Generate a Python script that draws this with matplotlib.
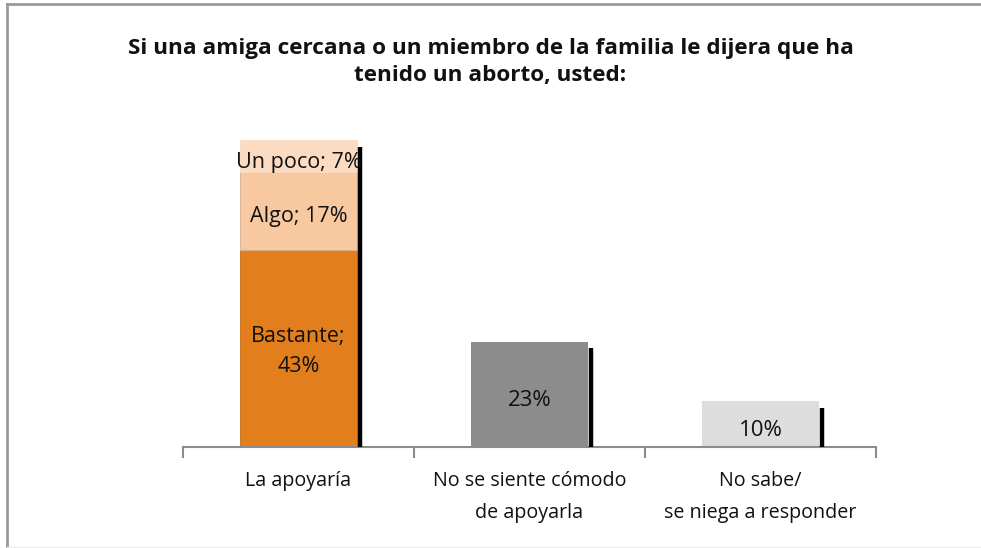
import matplotlib.pyplot as plt
from matplotlib.lines import Line2D

categories = ["La apoyaría", "No se siente cómodo\nde apoyarla", "No sabe/\nse niega a responder"]
bastante = [43, 0, 0]
algo = [17, 0, 0]
un_poco = [7, 0, 0]
otros = [0, 23, 10]
seg_labels = ["Bastante;\n43%", "Algo; 17%", "Un poco; 7%"]
otros_labels = ["", "23%", "10%"]
title = "Si una amiga cercana o un miembro de la familia le dijera que ha\ntenido un aborto, usted:"

plt.rcParams['font.family'] = ['Open Sans', 'DejaVu Sans']

fig = plt.figure(figsize=(9.81, 5.48), dpi=100)
# frame: only left and top clearly visible, bottom very faint
fig.lines.append(Line2D([7/981, 7/981], [1/548, 544/548], transform=fig.transFigure, color='#9a9a9a', lw=2))
fig.lines.append(Line2D([7/981, 1.0], [544/548, 544/548], transform=fig.transFigure, color='#9a9a9a', lw=2))
fig.lines.append(Line2D([7/981, 1.0], [1.5/548, 1.5/548], transform=fig.transFigure, color='#ececec', lw=1))

ax = fig.add_axes([183/981, 101/548, 693/981, 320.6/548])
x = [0, 1, 2]
w = 0.51

# first bar: stacked segments
ax.bar(x, bastante, w, color='#e27f1c', edgecolor='#c87018', linewidth=0.6, zorder=2)
ax.bar(x, algo, w, bottom=bastante, color='#f8c9a0', edgecolor='#d8b090', linewidth=0.6, zorder=2)
bot3 = [a + b for a, b in zip(bastante, algo)]
ax.bar(x, un_poco, w, bottom=bot3, color='#fbdcc2', edgecolor='#fbdcc2', linewidth=0.6, zorder=2)
ax.bar(x[1:], otros[1:], w, color=['#8c8c8c', '#dddddd'], zorder=2)

# dark shadow line on the right edge of each bar
totals = [a + b + c + d for a, b, c, d in zip(bastante, algo, un_poco, otros)]
for xi, t in zip(x, totals):
    ax.plot([xi + w / 2 + 0.012, xi + w / 2 + 0.012], [0, t - 1.4], color='black', lw=3.2,
            solid_capstyle='butt', zorder=3)

fs = 15.5
ax.text(0, bastante[0] / 2 - 0.6, seg_labels[0], ha='center', va='center', fontsize=fs, color='#111111',
        linespacing=1.55, zorder=4)
ax.text(0, bastante[0] + algo[0] / 2 - 1.2, seg_labels[1], ha='center', va='center', fontsize=fs, color='#111111', zorder=4)
ax.text(0, bot3[0] + un_poco[0] / 2 - 1.3, seg_labels[2], ha='center', va='center', fontsize=fs, color='#111111', zorder=4)
for xi, v, lab in zip(x[1:], otros[1:], otros_labels[1:]):
    ax.text(xi, v / 2 - 1.4, lab, ha='center', va='center', fontsize=fs + 0.5, color='#111111', zorder=4)

ax.set_xlim(-0.5, 2.5)
ax.set_ylim(0, 70)
ax.set_yticks([])
ax.set_xticks([-0.5, 0.5, 1.5, 2.5])
ax.set_xticklabels([])
ax.tick_params(axis='x', direction='out', length=8, width=1.5, color='#8c8c8c')
for s in ['top', 'right', 'left']:
    ax.spines[s].set_visible(False)
ax.spines['bottom'].set_color('#8c8c8c')
ax.spines['bottom'].set_linewidth(1.5)
ax.set_facecolor('none')

for xi, c in zip(x, categories):
    ax.text(xi, -5.3, c, ha='center', va='top', fontsize=14.2, color='#111111', linespacing=1.75)

fig.text(0.5, 1 - 62/548, title, ha='center', va='center', fontsize=16.2, fontweight='bold',
         linespacing=1.35, color='#111111')

fig.savefig('out.png', dpi=100)
